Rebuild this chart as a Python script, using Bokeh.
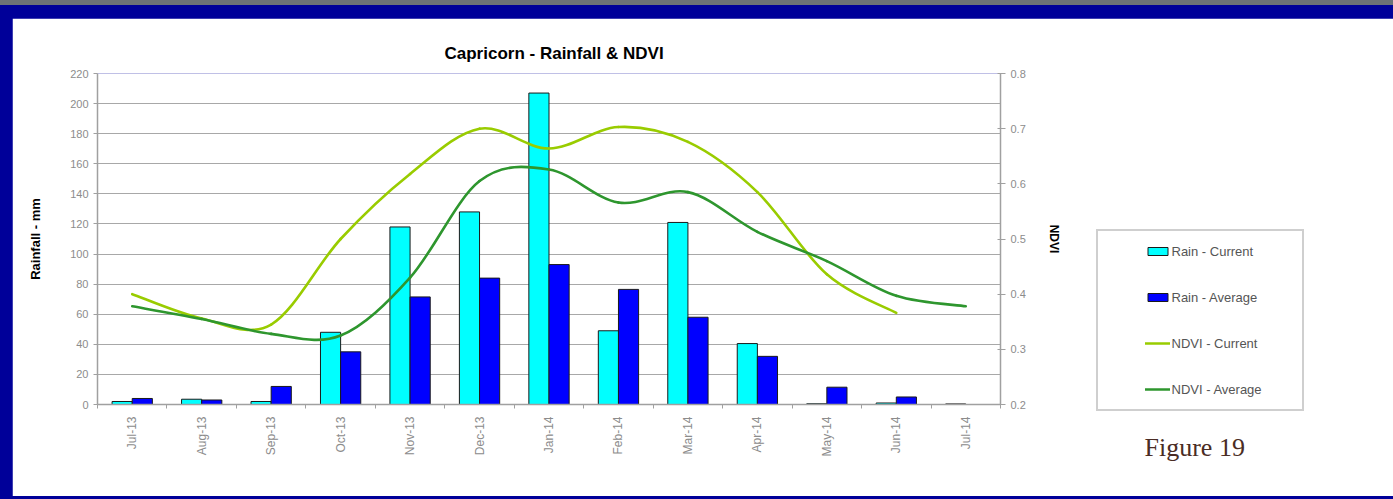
import math
from bokeh.plotting import figure
from bokeh.models import (Range1d, LinearAxis, FixedTicker, SingleIntervalTicker,
                          Legend, LegendItem, Label, ColumnDataSource)
from bokeh.transform import dodge
from bokeh.layouts import column
from bokeh.embed import file_html
from bokeh.resources import INLINE

# ---------------- data ----------------
months = ["Jul-13", "Aug-13", "Sep-13", "Oct-13", "Nov-13", "Dec-13", "Jan-14",
          "Feb-14", "Mar-14", "Apr-14", "May-14", "Jun-14", "Jul-14"]
rain_current = [2, 3.5, 2, 48, 118, 128, 207, 49, 121, 40.5, 0.5, 1, 0.4]
rain_average = [4, 3, 12, 35, 71.5, 84, 93, 76.5, 58, 32, 11.5, 5, 0]
ndvi_current = [0.400, 0.356, 0.345, 0.500, 0.618, 0.700, 0.664, 0.703, 0.676, 0.585,
                0.436, 0.366, float("nan")]
ndvi_average = [0.378, 0.355, 0.328, 0.325, 0.430, 0.605, 0.626, 0.566, 0.585, 0.513,
                0.460, 0.397, 0.378]
rain_range = (0, 220)
ndvi_range = (0.2, 0.8)

TICK_FONT = "Liberation Sans"
GRAY = "#8c8c8c"
AXIS_GRAY = "#a0a0a0"

n = len(months)
centers = [i + 0.5 for i in range(n)]
bounds = [float(i) for i in range(n + 1)]

src = ColumnDataSource(dict(x=centers, cur=rain_current, avg=rain_average))

p = figure(frame_width=903, frame_height=331, x_range=Range1d(0, n), y_range=Range1d(*rain_range),
           output_backend="svg", toolbar_location=None,
           min_border_left=85, min_border_right=382, min_border_top=55, min_border_bottom=92,
           background_fill_color="white", border_fill_color="white",
           outline_line_color=None)
p.margin = (18, 11, 3, 12)

p.title.text = "Capricorn - Rainfall & NDVI"
p.title.align = "left"
p.title.text_font = TICK_FONT
p.title.text_font_size = "17px"
p.title.text_font_style = "bold"
p.title.text_color = "#000000"
p.title.offset = 347
p.title.standoff = 21

p.extra_y_ranges = {"ndvi": Range1d(*ndvi_range)}

# bars
bw = 0.29
r_cur = p.vbar(x=dodge("x", -bw / 2, range=p.x_range), top="cur", width=bw, source=src,
               fill_color="#00FFFF", line_color="#1a1a1a", line_width=1)
r_avg = p.vbar(x=dodge("x", bw / 2, range=p.x_range), top="avg", width=bw, source=src,
               fill_color="#0000FF", line_color="#1a1a1a", line_width=1)


def smooth_segments(xs, ys):
    pts = [(x, y) for x, y in zip(xs, ys) if not math.isnan(y)]
    seg = dict(x0=[], y0=[], x1=[], y1=[], cx0=[], cy0=[], cx1=[], cy1=[])
    m = len(pts)
    for i in range(m - 1):
        p0 = pts[i - 1] if i > 0 else pts[i]
        p1 = pts[i]
        p2 = pts[i + 1]
        p3 = pts[i + 2] if i + 2 < m else pts[i + 1]
        seg["x0"].append(p1[0]); seg["y0"].append(p1[1])
        seg["x1"].append(p2[0]); seg["y1"].append(p2[1])
        seg["cx0"].append(p1[0] + (p2[0] - p0[0]) / 6)
        seg["cy0"].append(p1[1] + (p2[1] - p0[1]) / 6)
        seg["cx1"].append(p2[0] - (p3[0] - p1[0]) / 6)
        seg["cy1"].append(p2[1] - (p3[1] - p1[1]) / 6)
    return ColumnDataSource(seg)


r_ndc = p.bezier(x0="x0", y0="y0", x1="x1", y1="y1", cx0="cx0", cy0="cy0", cx1="cx1", cy1="cy1",
                 source=smooth_segments(centers, ndvi_current), y_range_name="ndvi",
                 line_color="#99CC00", line_width=2.6, line_cap="round")
r_nda = p.bezier(x0="x0", y0="y0", x1="x1", y1="y1", cx0="cx0", cy0="cy0", cx1="cx1", cy1="cy1",
                 source=smooth_segments(centers, ndvi_average), y_range_name="ndvi",
                 line_color="#2E962E", line_width=2.6, line_cap="round")

# grid
p.xgrid.visible = False
p.ygrid.grid_line_color = "#a8a8a8"
p.ygrid.grid_line_width = 1.2

# left axis
ya = p.yaxis[0]
ya.ticker = SingleIntervalTicker(interval=20, num_minor_ticks=0)
ya.axis_label = "Rainfall - mm"
ya.axis_label_text_font = TICK_FONT
ya.axis_label_text_font_size = "13px"
ya.axis_label_text_font_style = "bold"
ya.axis_label_text_color = "#000000"
ya.axis_label_standoff = 24
ya.major_label_text_font = TICK_FONT
ya.major_label_text_font_size = "11px"
ya.major_label_text_color = GRAY
ya.major_label_standoff = 5
ya.axis_line_color = AXIS_GRAY
ya.axis_line_width = 1.5
ya.major_tick_line_color = AXIS_GRAY
ya.major_tick_out = 4
ya.major_tick_in = 0
ya.minor_tick_line_color = None

# right axis
ra = LinearAxis(y_range_name="ndvi", ticker=SingleIntervalTicker(interval=0.1, num_minor_ticks=0))
ra.axis_label = "NDVI"
ra.axis_label_text_font = TICK_FONT
ra.axis_label_text_font_size = "12px"
ra.axis_label_text_font_style = "bold"
ra.axis_label_text_color = "#000000"
ra.axis_label_standoff = 18
ra.major_label_text_font = TICK_FONT
ra.major_label_text_font_size = "11px"
ra.major_label_text_color = GRAY
ra.major_label_standoff = 5
ra.axis_line_color = AXIS_GRAY
ra.axis_line_width = 1.5
ra.major_tick_line_color = AXIS_GRAY
ra.major_tick_out = 5
ra.major_tick_in = 3
ra.minor_tick_line_color = None
p.add_layout(ra, "right")

# x axis
xa = p.xaxis[0]
xa.ticker = FixedTicker(ticks=centers, minor_ticks=bounds)
xa.major_label_overrides = {c: m for c, m in zip(centers, months)}
xa.major_label_orientation = math.pi / 2
xa.major_label_text_font = TICK_FONT
xa.major_label_text_font_size = "12px"
xa.major_label_text_color = GRAY
xa.major_label_standoff = 8
xa.major_tick_line_color = None
xa.major_tick_out = 0
xa.major_tick_in = 0
xa.minor_tick_line_color = AXIS_GRAY
xa.minor_tick_out = 4
xa.minor_tick_in = 0
xa.axis_line_color = AXIS_GRAY
xa.axis_line_width = 1.5

# legend (in the right side panel, so it is not clipped by the frame)
legend = Legend(items=[
    LegendItem(label="Rain - Current", renderers=[r_cur], index=0),
    LegendItem(label="Rain - Average", renderers=[r_avg], index=0),
    LegendItem(label="NDVI - Current", renderers=[r_ndc], index=0),
    LegendItem(label="NDVI - Average", renderers=[r_nda], index=0),
], location=(-205, -7))
legend.padding = 10
legend.margin = 0
legend.spacing = 26
legend.glyph_width = 25
legend.glyph_height = 10
legend.label_height = 20
legend.label_width = 120
legend.label_standoff = 2
legend.label_text_font = TICK_FONT
legend.label_text_font_size = "13px"
legend.label_text_color = "#555555"
legend.border_line_color = "#a0a0a0"
legend.border_line_width = 2
legend.background_fill_color = "white"
legend.title = " "
legend.title_location = "left"
legend.title_text_font_size = "1px"
legend.title_standoff = 36
p.add_layout(legend, "right")

fig_label = Label(x=1047, y=41, x_units="screen", y_units="screen", text="Figure 19",
                  text_font="Liberation Serif", text_font_size="26px",
                  text_color="#4a2c24", text_baseline="alphabetic")
p.add_layout(fig_label, "below")

root = column(p, styles={"background": "linear-gradient(to bottom, #6d7277 0px, #6d7277 5px, #000099 5px, #000099 100%)"})

open("out.html", "w").write(file_html(root, INLINE))
